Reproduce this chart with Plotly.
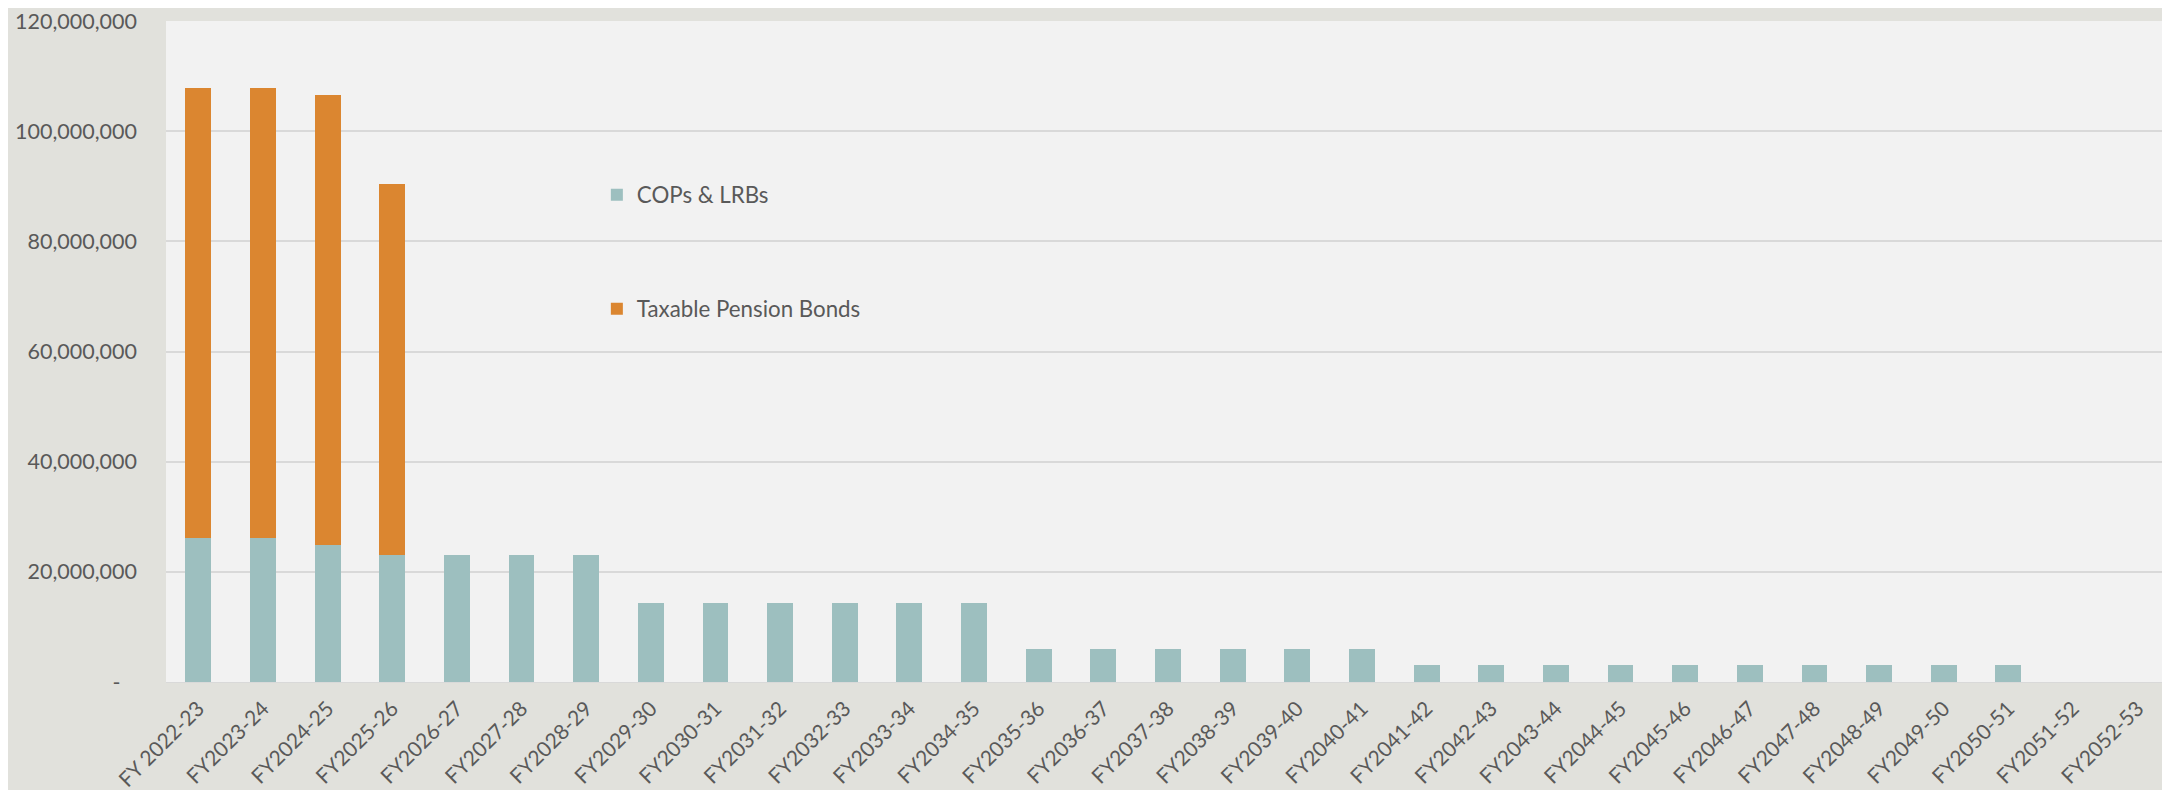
import plotly.graph_objects as go

categories = ["FY 2022-23"] + [f"FY{y}-{str(y + 1)[-2:]}" for y in range(2023, 2053)]

cops_lrbs = [26.2e6, 26.2e6, 24.9e6, 23.0e6,
             23.0e6, 23.0e6, 23.0e6,
             14.4e6, 14.4e6, 14.4e6, 14.4e6, 14.4e6, 14.4e6,
             6.0e6, 6.0e6, 6.0e6, 6.0e6, 6.0e6, 6.0e6,
             3.15e6, 3.15e6, 3.15e6, 3.15e6, 3.15e6, 3.15e6, 3.15e6, 3.15e6, 3.15e6, 3.15e6,
             0, 0]
pension_bonds = [81.55e6, 81.55e6, 81.6e6, 67.4e6] + [0] * 27

y_ticks = [0, 20e6, 40e6, 60e6, 80e6, 100e6, 120e6]
y_tick_text = ["-\u00a0\u00a0\u00a0", "20,000,000", "40,000,000", "60,000,000", "80,000,000", "100,000,000", "120,000,000"]

FONT = "Lato"
TXT = "#595959"

fig = go.Figure()
fig.add_trace(go.Bar(x=categories, y=cops_lrbs, name="COPs & LRBs",
                     marker=dict(color="#9DBFBF", line=dict(width=0)), legendgroup="a"))
fig.add_trace(go.Bar(x=categories, y=pension_bonds, name="Taxable Pension Bonds",
                     marker=dict(color="#DB8630", line=dict(width=0)), legendgroup="b"))

fig.update_layout(
    width=2170, height=790,
    barmode="stack", bargap=0.6,
    paper_bgcolor="#E1E1DC", plot_bgcolor="#F2F2F2",
    margin=dict(l=158, r=8, t=13, b=116, autoexpand=False),
    font=dict(family=FONT, size=21.5, color=TXT),
    legend=dict(x=0.215, y=0.769, xanchor="left", yanchor="top",
                bgcolor="rgba(0,0,0,0)", traceorder="grouped",
                tracegroupgap=82, font=dict(size=22.3, color=TXT)),
    xaxis=dict(tickangle=-45, showgrid=False, showline=True, linecolor="#D9D9D9",
               linewidth=1, automargin=False, ticklabeloverflow="allow",
               ticklabelstandoff=5, tickfont=dict(size=21, color=TXT)),
    yaxis=dict(range=[0, 120e6], tickvals=y_ticks, ticktext=y_tick_text,
               showgrid=True, gridcolor="#D9D9D9", gridwidth=1.5, zeroline=False,
               automargin=False, ticklabelstandoff=28, ticklabeloverflow="allow",
               tickfont=dict(size=21.5, color=TXT)),
)

fig.write_html("out.html")
